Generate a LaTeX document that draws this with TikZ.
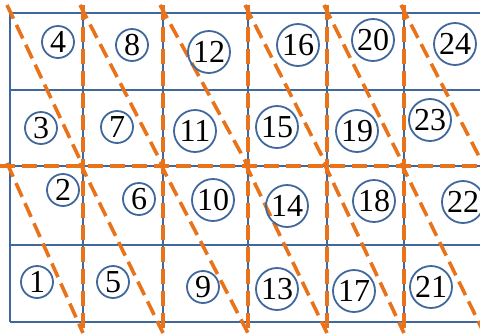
\documentclass[tikz,border=0pt]{standalone}
\usepackage{tikz}
\usepackage{fontspec}
\setmainfont{Liberation Serif}
\definecolor{gridblue}{HTML}{41689C}
\definecolor{dashorange}{HTML}{E8731A}
\begin{document}
\begin{tikzpicture}[x=1pt,y=-1pt,
  gridline/.style={draw=gridblue,line width=2.2pt},
  cutline/.style={draw=dashorange,line width=3.6pt,dash pattern=on 15pt off 7pt},
  num/.style={circle,draw=gridblue,line width=1.8pt,inner sep=0pt,minimum size=32pt,
    font=\fontsize{32}{32}\selectfont},
  numw/.style={num,minimum size=42pt}]
\useasboundingbox (0,0) rectangle (480,333);
\clip (0,0) rectangle (480,333);
% blue grid
\foreach \x in {10,83,163,248,327,404} \draw[gridline] (\x,13) -- (\x,322);
\foreach \y in {13,90,166,245,322} \draw[gridline] (10,\y) -- (490,\y);
% orange cuts
\foreach \x in {83,163,248,327,404} \draw[cutline] (\x,5) -- (\x,333);
\draw[cutline] (0,166) -- (480,166);
\foreach \a/\b in {10/83,83/163,163/248,248/327,327/404,404/484} {
  \draw[cutline] (\a-3,5) -- (\b,166);
  \draw[cutline] (\a-3,163) -- (\b,333);
}
% numbers
\node[num]  (c1)  at (37,282) {1};
\node[num]  (c2)  at (63,190) {2};
\node[num]  (c3)  at (41,128) {3};
\node[num]  (c4)  at (58,42) {4};
\node[num]  (c5)  at (113,282) {5};
\node[num]  (c6)  at (139,199) {6};
\node[num]  (c7)  at (117,127) {7};
\node[num]  (c8)  at (132,45) {8};
\node[num]  (c9)  at (203,287) {9};
\node[numw] (c10) at (213,200) {10};
\node[numw] (c11) at (195,131) {11};
\node[numw] (c12) at (209,52) {12};
\node[numw] (c13) at (277,289) {13};
\node[numw] (c14) at (287,206) {14};
\node[numw] (c15) at (277,127) {15};
\node[numw] (c16) at (298,45) {16};
\node[numw] (c17) at (354,291) {17};
\node[numw] (c18) at (374,201) {18};
\node[numw] (c19) at (357,131) {19};
\node[numw] (c20) at (373,40) {20};
\node[numw] (c21) at (431,287) {21};
\node[numw] (c22) at (463,202) {22};
\node[numw] (c23) at (430,120) {23};
\node[numw] (c24) at (455,44) {24};
\end{tikzpicture}
\end{document}
